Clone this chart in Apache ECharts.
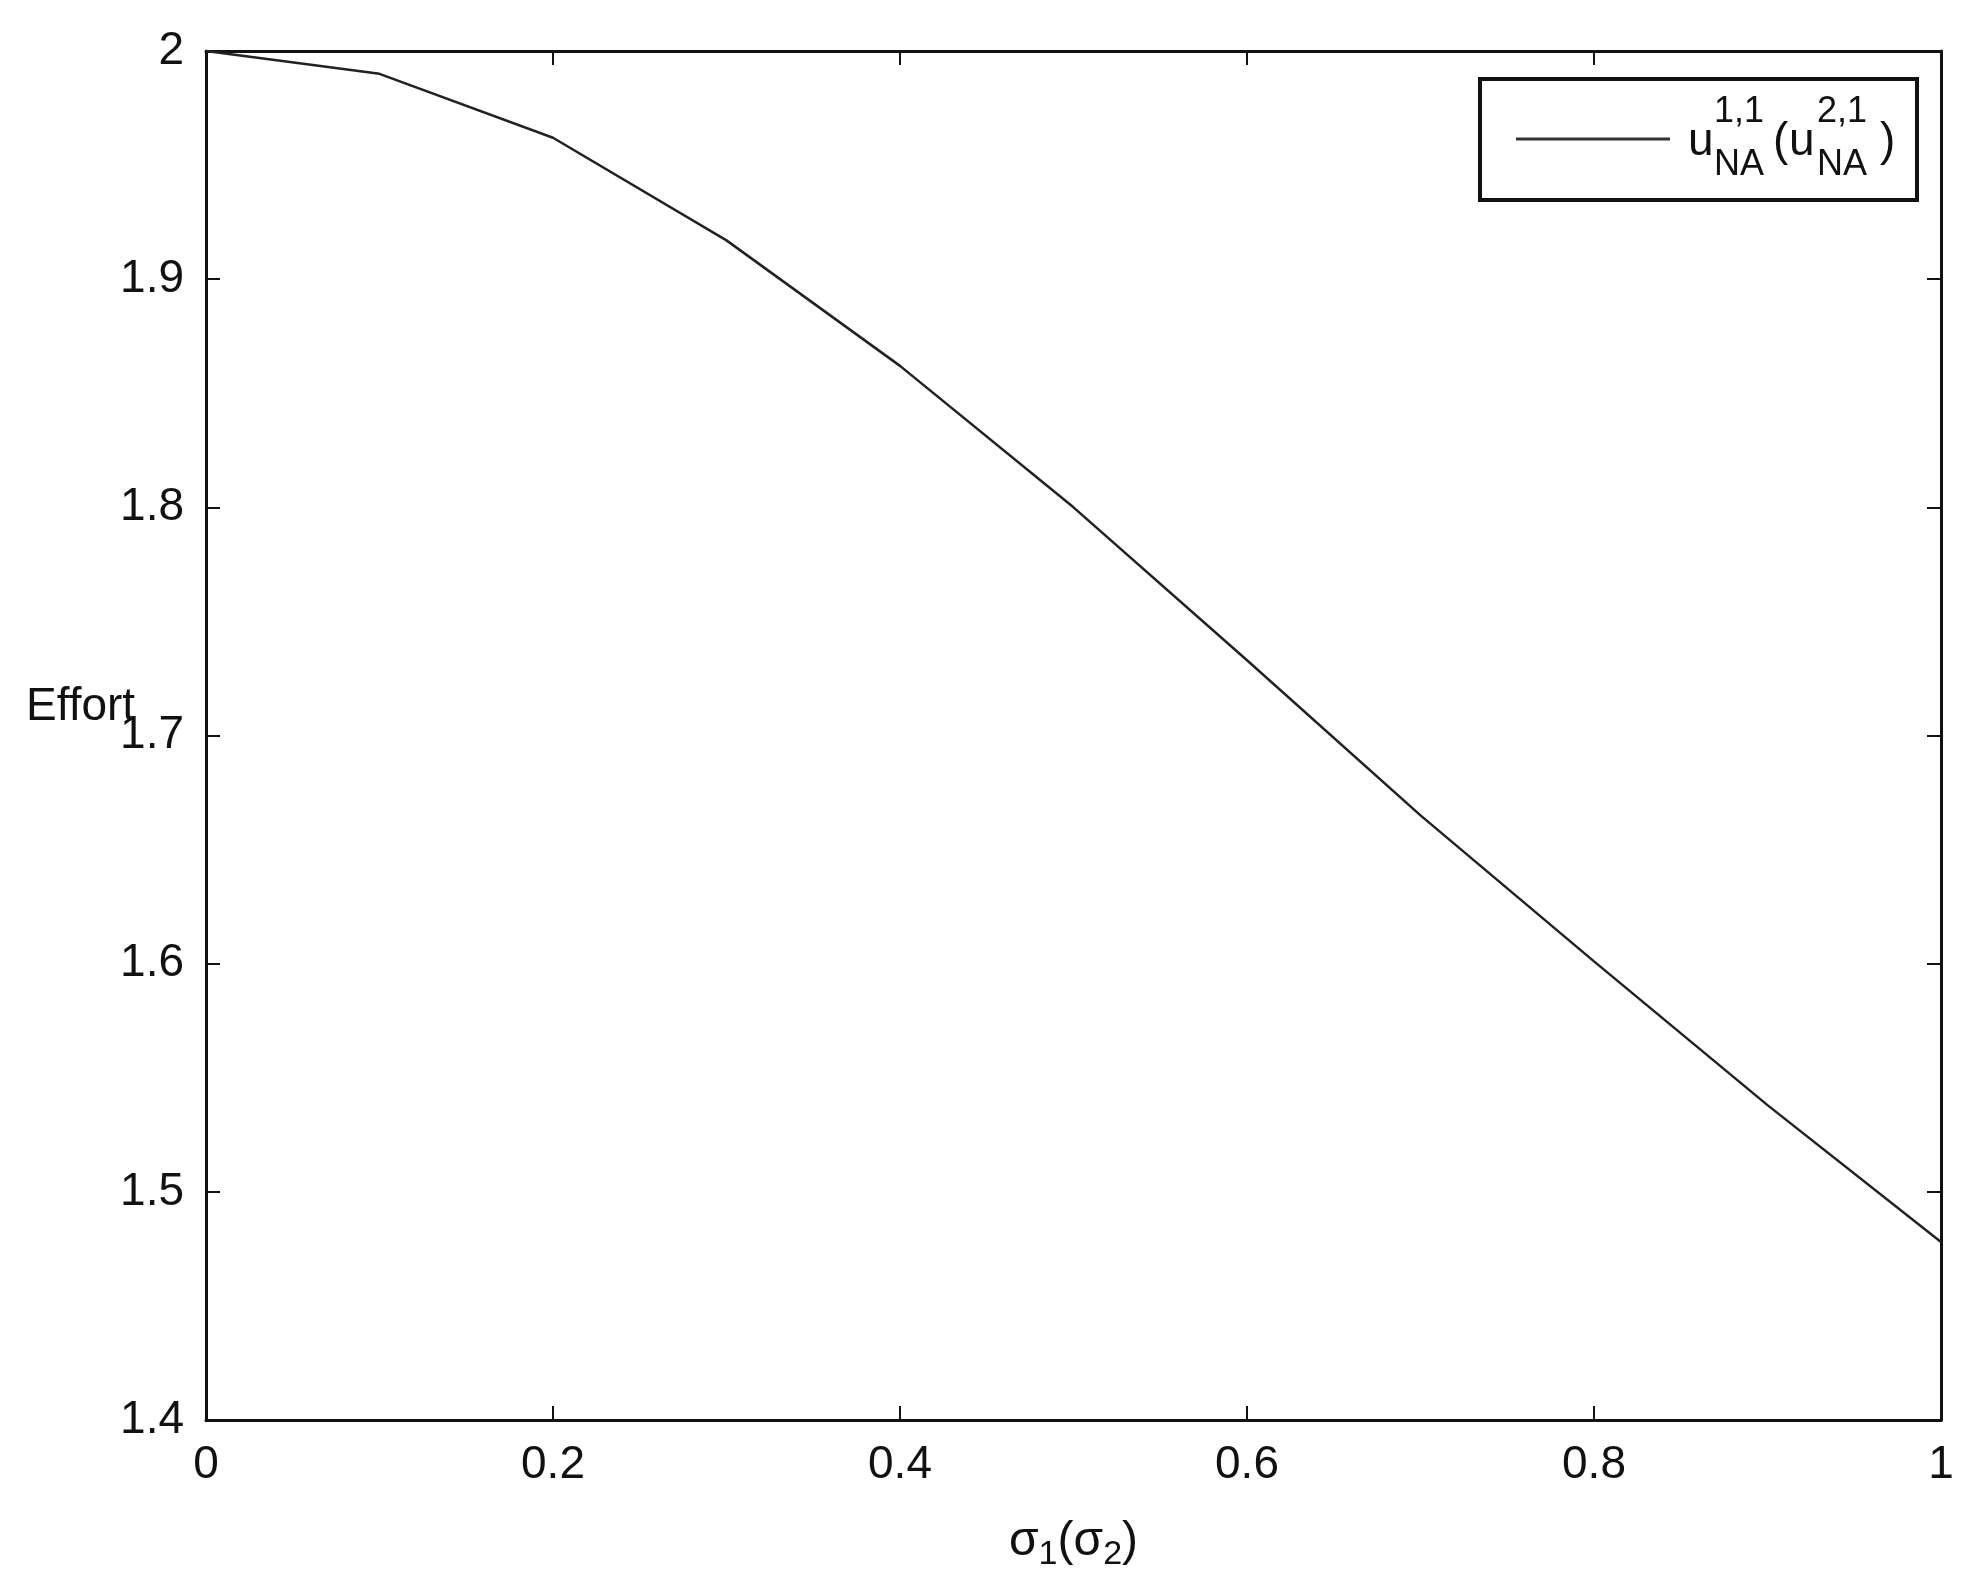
<!DOCTYPE html>
<html><head><meta charset="utf-8">
<script src="https://cdn.jsdelivr.net/npm/echarts@6/dist/echarts.min.js"></script>
<style>html,body{margin:0;background:#fff}#c{width:1970px;height:1591px}</style>
</head><body><div id="c"></div>
<script>
// data
var sigma = [0, 0.1, 0.2, 0.3, 0.4, 0.5, 0.6, 0.7, 0.8, 0.9, 1.0];
var effort = [2.0, 1.99, 1.962, 1.917, 1.862, 1.800, 1.733, 1.665, 1.601, 1.538, 1.478];

var font = 'Liberation Sans, Arial, sans-serif';
var pts = sigma.map(function (s, i) { return [s, effort[i]]; });

function txt(x, y, s, size) {
  return { type: 'text', z: 10, style: { x: x, y: y, text: s, fontSize: size, fontFamily: font,
    fill: '#111', verticalAlign: 'middle' } };
}

var chart = echarts.init(document.getElementById('c'));
var tick = { show: true, inside: true, length: 14, lineStyle: { color: '#111', width: 2 } };
var axisLine = { show: true, onZero: false, lineStyle: { color: '#111', width: 3 } };
chart.setOption({
  animation: false,
  grid: { left: 206, right: 29, top: 51, bottom: 171 },
  xAxis: [{
    type: 'value', min: 0, max: 1, interval: 0.2,
    axisLine: axisLine, axisTick: tick, splitLine: { show: false },
    axisLabel: { color: '#111', fontSize: 46, fontFamily: font, margin: 22,
      formatter: function (v) { return String(+v.toFixed(1)); } },
    name: '{a|σ}{s|1}{a|(σ}{s|2}{a|)}', nameLocation: 'middle', nameGap: 92,
    nameTextStyle: { rich: {
      a: { fontSize: 48, fontFamily: font, color: '#111' },
      s: { fontSize: 34, fontFamily: font, color: '#111', padding: [26, 0, 0, 0] } } }
  }, {
    type: 'value', position: 'top', min: 0, max: 1, interval: 0.2,
    axisLine: axisLine, axisTick: tick, axisLabel: { show: false }, splitLine: { show: false }
  }],
  yAxis: [{
    type: 'value', min: 1.4, max: 2, interval: 0.1,
    axisLine: axisLine, axisTick: tick, splitLine: { show: false },
    axisLabel: { color: '#111', fontSize: 46, fontFamily: font, margin: 22,
      formatter: function (v) { return String(+v.toFixed(1)); } }
  }, {
    type: 'value', position: 'right', min: 1.4, max: 2, interval: 0.1,
    axisLine: axisLine, axisTick: tick, axisLabel: { show: false }, splitLine: { show: false }
  }],
  series: [{
    type: 'line', data: pts, symbol: 'none', smooth: false,
    lineStyle: { color: '#222', width: 2.5 }
  }],
  graphic: [
    txt(26, 707, 'Effort', 46),
    { type: 'rect', shape: { x: 1480, y: 79, width: 437, height: 121 },
      style: { fill: '#fff', stroke: '#111', lineWidth: 4 } },
    { type: 'line', z: 10, shape: { x1: 1516, y1: 139, x2: 1670, y2: 139 },
      style: { stroke: '#333', lineWidth: 3 } },
    txt(1688, 142, 'u', 46),
    txt(1714, 112, '1,1', 36),
    txt(1714, 165, 'NA', 36),
    txt(1773, 142, '(', 46),
    txt(1789, 142, 'u', 46),
    txt(1817, 112, '2,1', 36),
    txt(1817, 165, 'NA', 36),
    txt(1880, 142, ')', 46)
  ]
});
</script></body></html>
